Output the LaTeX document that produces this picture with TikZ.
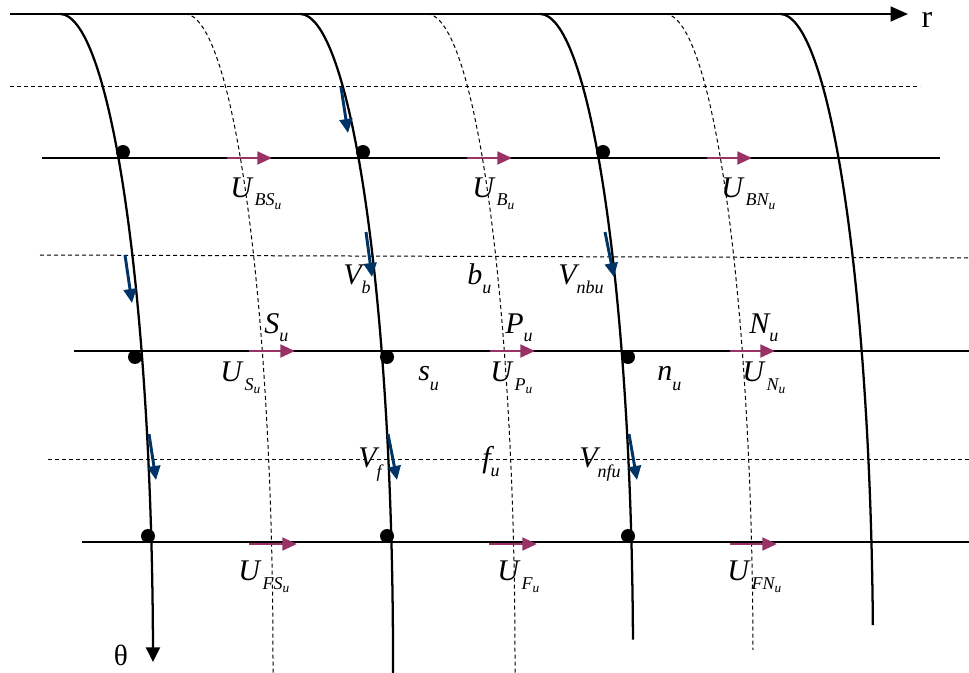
\documentclass[tikz,border=0pt]{standalone}
\usepackage{fontspec}
\setmainfont{Liberation Serif}
\usetikzlibrary{arrows.meta}
\definecolor{magentaA}{RGB}{153,51,102}
\definecolor{navyA}{RGB}{0,51,102}
\newcommand\Lmain[1]{{\fontsize{22.5}{22.5}\selectfont\itshape #1}}
\newcommand\Lsub[2]{\raisebox{-#1}{\fontsize{13.5}{13.5}\selectfont\itshape #2}}
\newcommand\Lss[1]{\raisebox{-2.5pt}{\fontsize{10}{10}\selectfont\itshape #1}}
\begin{document}
\begin{tikzpicture}[x=0.75pt,y=-0.75pt,
  solidline/.style={line width=1.7pt,black},
  dashline/.style={line width=0.75pt,black,dash pattern=on 3pt off 2.25pt},
  magarrow/.style={line width=2.2pt,magentaA,-{Triangle[length=11pt,width=9.5pt]}},
  bluearrow/.style={line width=2.2pt,navyA,-{Triangle[length=10.5pt,width=9.5pt]}},
  dotnode/.style={circle,fill=black,inner sep=0pt,minimum size=10.5pt},
  lbl/.style={anchor=base west,inner sep=0pt}]
\useasboundingbox (0,0) rectangle (969,673);
\fill[white] (0,0) rectangle (969,673);

% dashed horizontal lines
\draw[dashline] (10,87) -- (920,87);
\draw[dashline] (40,255) -- (969,258);
\draw[dashline] (48,459) -- (969,459);

% dashed curves
\draw[dashline] plot[domain=0:90,samples=60,smooth,variable=\t] ({185+88*sin(\t)},{14+646*(1-cos(\t))}) -- (273,673);
\draw[dashline] plot[domain=0:90,samples=60,smooth,variable=\t] ({427+88*sin(\t)},{14+646*(1-cos(\t))}) -- (515,673);
\draw[dashline] plot[domain=0:89.1,samples=60,smooth,variable=\t] ({665+88*sin(\t)},{14+646*(1-cos(\t))});

% solid horizontal lines
\draw[solidline] (42,158) -- (940,158);
\draw[solidline] (74,351) -- (969,351);
\draw[solidline] (82,542) -- (969,542);

% axis r
\draw[solidline,-{Triangle[length=13pt,width=11pt]}] (10,14) -- (908,14);
\node (rlab) at (927,20) {\fontsize{24}{24}\selectfont r};

% solid curves
\draw[solidline,-{Triangle[length=11pt,width=10.5pt]}] plot[domain=0:90,samples=60,smooth,variable=\t] ({60+93*sin(\t)},{14+648*(1-cos(\t))});
\node (thlab) at (121,655) {\fontsize{22}{22}\selectfont θ};
\draw[solidline] plot[domain=0:90,samples=60,smooth,variable=\t] ({300+93*sin(\t)},{14+646*(1-cos(\t))}) -- (393,673);
\draw[solidline] plot[domain=0:88.2,samples=60,smooth,variable=\t] ({540+93*sin(\t)},{14+646*(1-cos(\t))});
\draw[solidline] plot[domain=0:86.9,samples=60,smooth,variable=\t] ({780+93*sin(\t)},{14+646*(1-cos(\t))});

% dots
\node[dotnode] (d11) at (123,152) {};
\node[dotnode] (d12) at (363,152) {};
\node[dotnode] (d13) at (603,152) {};
\node[dotnode] (d21) at (135,357) {};
\node[dotnode] (d22) at (387,357) {};
\node[dotnode] (d23) at (628,357) {};
\node[dotnode] (d31) at (148,536) {};
\node[dotnode] (d32) at (387,536) {};
\node[dotnode] (d33) at (628,536) {};

% magenta arrows
\coordinate (m1a) at (227,158); \coordinate (m1b) at (272,158);
\coordinate (m2a) at (467,158); \coordinate (m2b) at (512,158);
\coordinate (m3a) at (707,158); \coordinate (m3b) at (752,158);
\coordinate (m4a) at (249,351); \coordinate (m4b) at (295,351);
\coordinate (m5a) at (490,351); \coordinate (m5b) at (535,351);
\coordinate (m6a) at (730,351); \coordinate (m6b) at (775,351);
\coordinate (m7a) at (249,544); \coordinate (m7b) at (297,544);
\coordinate (m8a) at (489,544); \coordinate (m8b) at (537,544);
\coordinate (m9a) at (730,544); \coordinate (m9b) at (777,544);
\foreach \i in {1,...,9} { \draw[magarrow] (m\i a) -- (m\i b); }

% blue arrows
\coordinate (b1a) at (341,87);  \coordinate (b1b) at (348,133);
\coordinate (b2a) at (366,232); \coordinate (b2b) at (372,277);
\coordinate (b3a) at (125,255); \coordinate (b3b) at (132,303);
\coordinate (b4a) at (605,232); \coordinate (b4b) at (614,277);
\coordinate (b5a) at (149,434); \coordinate (b5b) at (156,480);
\coordinate (b6a) at (388,434); \coordinate (b6b) at (397,480);
\coordinate (b7a) at (629,434); \coordinate (b7b) at (637,480);
\foreach \i in {1,...,7} { \draw[bluearrow] (b\i a) -- (b\i b); }

% labels
\node[lbl] (ubs) at (230,198) {\Lmain{U}\kern2pt\Lsub{6pt}{BS\Lss{u}}};
\node[lbl] (ub) at (472,198) {\Lmain{U}\kern2pt\Lsub{6pt}{B\Lss{u}}};
\node[lbl] (ubn) at (721,198) {\Lmain{U}\kern2pt\Lsub{6pt}{BN\Lss{u}}};
\node[lbl] (vb) at (343,285) {\Lmain{V}\Lsub{6pt}{b}};
\node[lbl] (bu) at (467,285) {\Lmain{b}\Lsub{6pt}{u}};
\node[lbl] (vnbu) at (558,285) {\Lmain{V}\Lsub{6pt}{nbu}};
\node[lbl] (su1) at (264,333) {\Lmain{S}\Lsub{6pt}{u}};
\node[lbl] (pu) at (505,333) {\Lmain{P}\Lsub{6pt}{u}};
\node[lbl] (nu1) at (749,333) {\Lmain{N}\Lsub{6pt}{u}};
\node[lbl] (us) at (220,381) {\Lmain{U}\kern2pt\Lsub{7pt}{S\Lss{u}}};
\node[lbl] (su2) at (418,380) {\Lmain{s}\Lsub{7.5pt}{u}};
\node[lbl] (up) at (490,381) {\Lmain{U}\kern2pt\Lsub{7pt}{P\Lss{u}}};
\node[lbl] (nu2) at (657,380) {\Lmain{n}\Lsub{7.5pt}{u}};
\node[lbl] (un) at (742,381) {\Lmain{U}\kern2pt\Lsub{7pt}{N\Lss{u}}};
\node[lbl] (vf) at (358,467) {\Lmain{V}\Lsub{7.5pt}{f}};
\node[lbl] (fu) at (482,467) {\Lmain{f}\Lsub{7pt}{u}};
\node[lbl] (vnfu) at (579,467) {\Lmain{V}\Lsub{7.5pt}{nfu}};
\node[lbl] (ufs) at (238,580) {\Lmain{U}\kern2pt\Lsub{7pt}{FS\Lss{u}}};
\node[lbl] (uf) at (497,580) {\Lmain{U}\kern2pt\Lsub{7pt}{F\Lss{u}}};
\node[lbl] (ufn) at (727,580) {\Lmain{U}\kern2pt\Lsub{7pt}{FN\Lss{u}}};
\end{tikzpicture}
\end{document}
